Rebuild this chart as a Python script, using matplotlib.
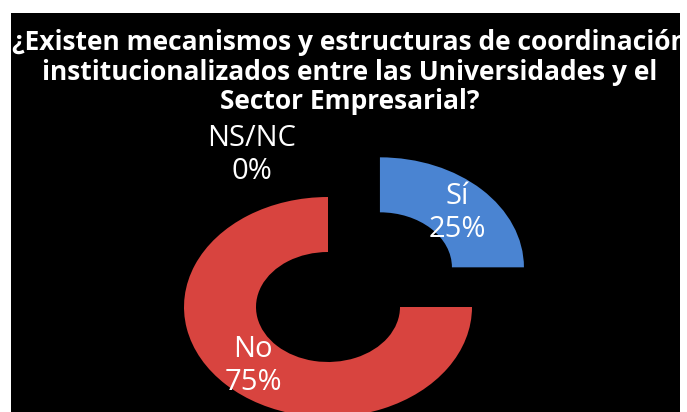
import matplotlib
matplotlib.use('Agg')
import matplotlib.pyplot as plt

# data
categories = ['Sí', 'No', 'NS/NC']
values = [25, 75, 0]
pct_labels = ['25%', '75%', '0%']
colors = ['#4a84d2', '#d8443f', '#9bbb59']
title = ('¿Existen mecanismos y estructuras de coordinación\n'
         'institucionalizados entre las Universidades y el\n'
         'Sector Empresarial?')

W, H = 687, 412
fig = plt.figure(figsize=(W / 100, H / 100), dpi=100, facecolor='white')
# black chart area (white strip at top / left / right like the screenshot)
bg = fig.add_axes([11 / W, 0, (680 - 11) / W, (H - 13) / H])
bg.set_facecolor('black')
bg.set_xticks([])
bg.set_yticks([])
for s in bg.spines.values():
    s.set_visible(False)

ax = fig.add_axes([0, 0, 1, 1])
ax.patch.set_alpha(0)
ax.axis('off')

# pixel scale: donut is stretched horizontally in the picture
sx, sy = 144.0, 110.0
cx, cy = 328.0, H - 307.0

wedges, _ = ax.pie(values, colors=colors, startangle=90, counterclock=False,
                   explode=[0.51, 0, 0], radius=1.0,
                   wedgeprops=dict(width=0.5, edgecolor='none'))
ax.set_aspect('auto')
ax.set_xlim(-cx / sx, (W - cx) / sx)
ax.set_ylim(-cy / sy, (H - cy) / sy)

font = ['Open Sans', 'DejaVu Sans']
label_pos = {'Sí': (457, 213), 'No': (253, 366), 'NS/NC': (252, 155)}
for cat, pct in zip(categories, pct_labels):
    px, py = label_pos[cat]
    ax.text((px - cx) / sx, (H - py - cy) / sy, cat + '\n' + pct,
            ha='center', va='center', color='white', fontsize=21,
            family=font, linespacing=1.15)

fig.text(350 / W, 1 - 72 / H, title, ha='center', va='center', color='white',
         fontsize=19, fontweight='bold', family=font, linespacing=1.1,
         clip_on=False)

fig.savefig('out.png', dpi=100, facecolor='white')
